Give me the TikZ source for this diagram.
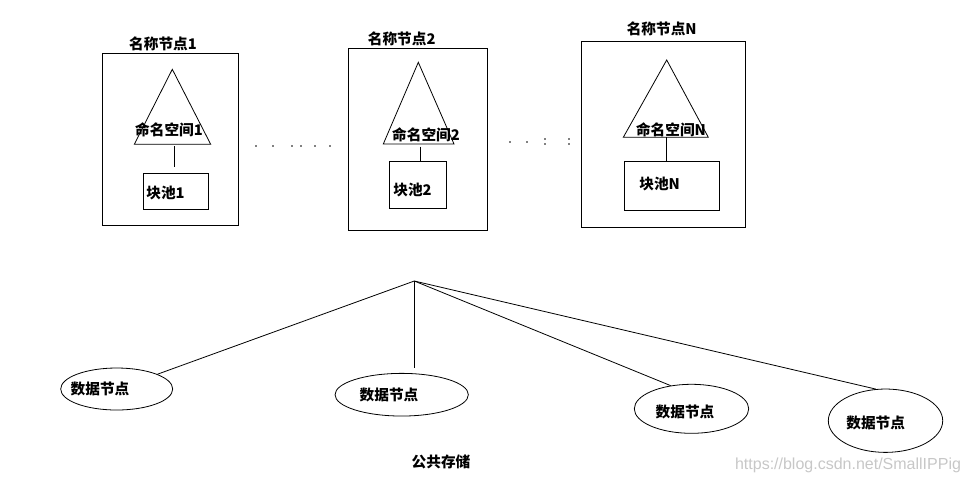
\documentclass[tikz,border=0pt]{standalone}
\usepackage{fontspec}
\newfontfamily\cjk{Noto Sans CJK SC}
\newfontfamily\wmfont{Liberation Sans}
\usetikzlibrary{shapes.geometric}

\tikzset{every picture/.style={line width=0.6pt}}
\tikzset{
  lbl/.style={font=\cjk\bfseries\fontsize{11}{13}\selectfont, inner sep=0pt},
  hostbox/.style={draw, inner sep=0pt},
  poolbox/.style={draw, inner sep=0pt},
  datanode/.style={draw, ellipse, inner sep=0pt},
  dotmark/.style={fill=black, draw=none},
}

\begin{document}
\begin{tikzpicture}[x=0.75pt,y=0.75pt,yscale=-1,xscale=1]
\useasboundingbox (0,0) rectangle (969,483);

%Shape: Rectangle [name nodes]
\node [hostbox, minimum width=102pt, minimum height=129pt] (host1) at (170,139) {};
\node [hostbox, minimum width=104.25pt, minimum height=136.3pt] (host2) at (417.8,139.2) {};
\node [hostbox, minimum width=123pt, minimum height=139.7pt] (hostN) at (663.7,134.2) {};

% Text Node
\node [lbl] (host1lbl) at (163,44) {名称节点1};
% Text Node
\node [lbl] (host2lbl) at (401.7,39) {名称节点2};
% Text Node
\node [lbl] (hostNlbl) at (661.7,29) {名称节点N};

%Shape: Triangle
\draw (172.3,69.3) -- (134.3,144.3) -- (210.7,144.3) -- cycle ;
\coordinate (ns1) at (174,146);
%Shape: Triangle
\draw (418.3,62.3) -- (383.3,144) -- (454,144) -- cycle ;
\coordinate (ns2) at (420,146.7);
%Shape: Triangle
\draw (666.7,60) -- (623.3,137.3) -- (708.3,137.3) -- cycle ;
\coordinate (nsN) at (666.7,137.3);

% Text Node
\node [lbl] (ns1lbl) at (169,130) {命名空间1};
% Text Node
\node [lbl] (ns2lbl) at (426,135) {命名空间2};
% Text Node
\node [lbl] (nsNlbl) at (671,130) {命名空间N};

%Shape: Rectangle [block pools]
\node [poolbox, minimum width=48.75pt, minimum height=27pt] (pool1) at (175.8,191.3) {};
\node [poolbox, minimum width=43pt, minimum height=35pt] (pool2) at (418,185) {};
\node [poolbox, minimum width=71.25pt, minimum height=36.75pt] (poolN) at (671.8,185.5) {};

% Text Node
\node [lbl, anchor=west] (pool1lbl) at (146,193) {块池1};
% Text Node
\node [lbl, anchor=west] (pool2lbl) at (393,190) {块池2};
% Text Node
\node [lbl, anchor=west] (poolNlbl) at (639,184.3) {块池N};

%Straight Lines
\draw [shorten >=4.5pt] (ns1) -- (ns1 |- pool1.north) ;
\draw (ns2) -- (ns2 |- pool2.north) ;
\draw (nsN) -- (nsN |- poolN.north) ;

%Shape: dots
\foreach \dx in {256,273,292,301,315,330}
  \fill [dotmark] (\dx,146) circle (0.6pt) ;
\foreach \dx in {510,527}
  \fill [dotmark] (\dx,142) circle (0.6pt) ;
\foreach \dx in {545,569}
  {\fill [dotmark] (\dx,139) circle (0.6pt) ;
   \fill [dotmark] (\dx,144) circle (0.6pt) ;}

%Shape: Ellipse [data nodes]
\node [datanode, minimum width=84pt, minimum height=31.5pt] (dn1) at (116.7,389) {};
\node [datanode, minimum width=100pt, minimum height=32pt] (dn2) at (401.7,394.7) {};
\node [datanode, minimum width=85.8pt, minimum height=36.75pt] (dn3) at (691.5,408.8) {};
\node [datanode, minimum width=85.8pt, minimum height=47.5pt] (dn4) at (885.5,420.7) {};

% Text Node
\node [lbl] (dn1lbl) at (100,389) {数据节点};
% Text Node
\node [lbl] (dn2lbl) at (389,395) {数据节点};
% Text Node
\node [lbl] (dn3lbl) at (685,411.7) {数据节点};
% Text Node
\node [lbl] (dn4lbl) at (875.7,423.3) {数据节点};

%Straight Lines
\coordinate (hub) at (414.3,281);
\draw (hub) -- (dn1) ;
\draw [shorten >=4pt] (hub) -- (hub |- dn2.north) ;
\draw (hub) -- (dn3.132) ;
\draw (hub) -- (dn4.107) ;

% Text Node
\node [lbl] (store) at (441,461.7) {公共存储};
% Text Node
\node [font=\wmfont\fontsize{12}{14}\selectfont, text=black!22, inner sep=0pt] (mark) at (848,465) {https://blog.csdn.net/SmallIPPig};

\end{tikzpicture}
\end{document}
